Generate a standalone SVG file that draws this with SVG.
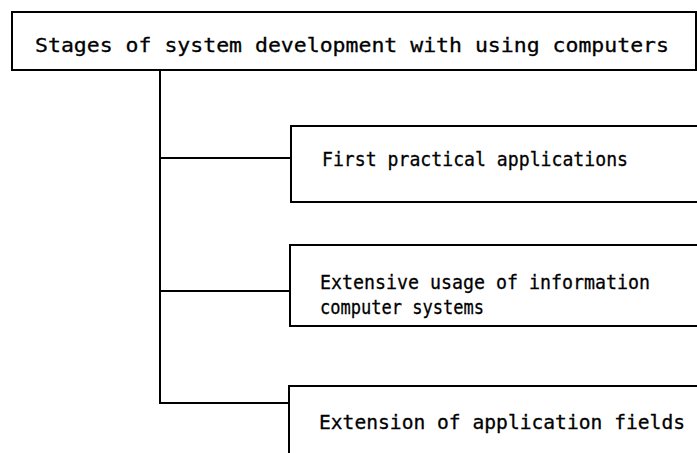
<svg xmlns="http://www.w3.org/2000/svg" width="697" height="453" viewBox="0 0 697 453">
<style>
.box{fill:#fff;stroke:#000;stroke-width:2}
.ln{fill:none;stroke:#000;stroke-width:2}
text{font-family:"DejaVu Sans Mono","Liberation Mono",monospace;font-size:20px;fill:#000;stroke:#000;stroke-width:0.3}
</style>
<rect width="697" height="453" fill="#fff"/>
<g id="connectors">
<path class="ln" d="M160 70 V403 H290 M160 158 H291 M160 291 H290"/>
</g>
<g id="root">
<rect class="box" x="12" y="12" width="684" height="58"/>
<text x="35" y="52" textLength="634" lengthAdjust="spacingAndGlyphs">Stages of system development with using computers</text>
</g>
<g id="n1">
<rect class="box" x="291" y="126" width="410" height="76"/>
<text x="322" y="166" textLength="306" lengthAdjust="spacingAndGlyphs">First practical applications</text>
</g>
<g id="n2">
<rect class="box" x="290" y="245" width="410" height="81"/>
<text x="320" y="289" textLength="330" lengthAdjust="spacingAndGlyphs">Extensive usage of information</text>
<text x="320" y="314" textLength="164" lengthAdjust="spacingAndGlyphs">computer systems</text>
</g>
<g id="n3">
<rect class="box" x="289" y="386" width="412" height="80"/>
<text x="319" y="429" textLength="366" lengthAdjust="spacingAndGlyphs">Extension of application fields</text>
</g>
</svg>
